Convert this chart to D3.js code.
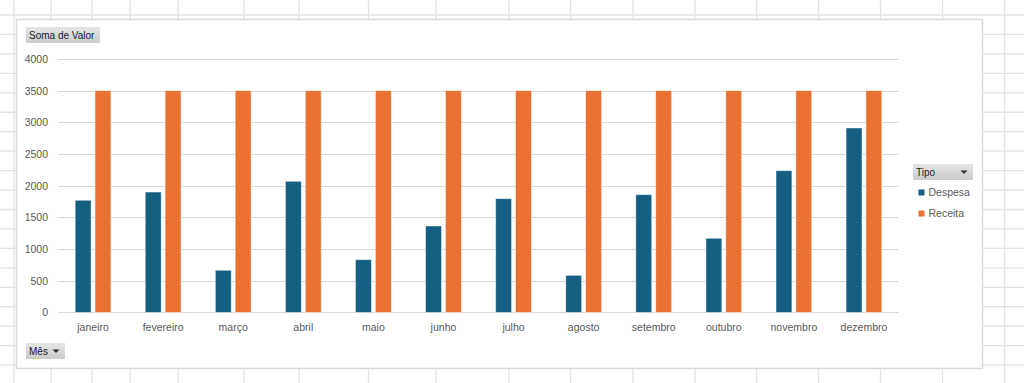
<!DOCTYPE html>
<html><head><meta charset="utf-8">
<script src="https://cdn.jsdelivr.net/npm/d3@7"></script>
<style>html,body{margin:0;padding:0;background:#fff;}svg{display:block;}</style>
</head><body>
<svg id="c" width="1024" height="383"></svg>
<script>
const months = ["janeiro","fevereiro","março","abril","maio","junho","julho","agosto","setembro","outubro","novembro","dezembro"];
const seriesNames = ["Despesa","Receita"];
const despesa = [1770,1900,665,2070,832,1364,1795,585,1858,1170,2237,2911];
const receita = [3500,3500,3500,3500,3500,3500,3500,3500,3500,3500,3500,3500];
const yTicks = [0,500,1000,1500,2000,2500,3000,3500,4000];
const colors = ["#156082","#E97132"];

const svg = d3.select("#c");
const W = 1024, H = 383;

// spreadsheet grid background
const colLines = [14,51,92,130,178,244,299,368.5,436,509,570.5,633,695,756.5,818.5,880.5,942.5,1004.5];
const rowLines = d3.range(0,19).map(i => 15 + i*19.45);
const bg = svg.append("g");
bg.selectAll("line.v").data(colLines).join("line")
  .attr("x1",d=>d).attr("x2",d=>d).attr("y1",0).attr("y2",H)
  .attr("stroke","#e3e3e3").attr("stroke-width",1.3);
bg.selectAll("line.h").data(rowLines).join("line")
  .attr("x1",0).attr("x2",W).attr("y1",d=>d).attr("y2",d=>d)
  .attr("stroke","#e3e3e3").attr("stroke-width",1.3);

// chart area
svg.append("rect").attr("x",16.5).attr("y",19.5).attr("width",966).attr("height",349)
  .attr("fill","#fff").attr("stroke","#d9d9d9").attr("stroke-width",1.5);

const x0 = d3.scaleBand().domain(months).range([58,899]).paddingInner(0.49).paddingOuter(0.245);
const x1 = d3.scaleBand().domain(seriesNames).range([0,x0.bandwidth()]).paddingInner(0.2);
const y = d3.scaleLinear().domain([0,4000]).range([312.4,59]);

// gridlines
const grid = svg.append("g");
grid.selectAll("line").data(yTicks).join("line")
  .attr("x1",58).attr("x2",899)
  .attr("y1",d=>Math.round(y(d))+0.5).attr("y2",d=>Math.round(y(d))+0.5)
  .attr("stroke","#d9d9d9").attr("stroke-width",1);

// y axis labels
const yAxis = d3.axisLeft(y).tickValues(yTicks).tickFormat(d3.format("d")).tickSize(0).tickPadding(0);
const ya = svg.append("g").attr("transform","translate(48,0)").call(yAxis);
ya.select(".domain").remove();
ya.selectAll("text").attr("font-family","Liberation Sans, Arial, sans-serif").attr("font-size","10.5px").attr("fill","#595959");

// x axis labels
const xAxis = d3.axisBottom(x0).tickSize(0).tickPadding(0);
const xa = svg.append("g").attr("transform","translate(0,324)").call(xAxis);
xa.select(".domain").remove();
xa.selectAll("text").attr("font-family","Liberation Sans, Arial, sans-serif").attr("font-size","10.5px").attr("fill","#595959");

// bars
const data = months.map((m,i)=>({m, vals:[despesa[i],receita[i]]}));
const groups = svg.append("g").selectAll("g").data(data).join("g")
  .attr("transform",d=>`translate(${x0(d.m)},0)`);
groups.selectAll("rect").data(d=>d.vals.map((v,j)=>({s:seriesNames[j],v,j}))).join("rect")
  .attr("x",d=>x1(d.s)).attr("width",x1.bandwidth())
  .attr("y",d=>y(d.v)).attr("height",d=>y(0)-y(d.v))
  .attr("fill",d=>colors[d.j])
  .attr("stroke","#ffffff").attr("stroke-opacity",0.55).attr("stroke-width",0.8);

// field buttons
const defs = svg.append("defs");
const gr = defs.append("linearGradient").attr("id","btn").attr("x1",0).attr("x2",0).attr("y1",0).attr("y2",1);
gr.append("stop").attr("offset","0%").attr("stop-color","#e6e6e6");
gr.append("stop").attr("offset","100%").attr("stop-color","#cbcbcb");

function button(x, yy, w, h, label, arrow){
  const g = svg.append("g");
  g.append("rect").attr("x",x).attr("y",yy).attr("width",w).attr("height",h).attr("fill","url(#btn)");
  g.append("text").attr("x",x+3).attr("y",yy+h/2+3.6).text(label)
    .attr("font-family","Liberation Sans, Arial, sans-serif").attr("font-size","10px").attr("fill","#1a1a2a");
  if(arrow){
    const ax = x+w-9, ay = yy+h/2;
    g.append("path").attr("d",`M${ax-3.5},${ay-1.5} L${ax+3.5},${ay-1.5} L${ax},${ay+2} Z`).attr("fill","#333");
  }
}
button(26,27,74,16,"Soma de Valor",false);
button(26,343,39,16,"Mês",true);
button(913,164,60,16,"Tipo",true);

// legend
const leg = svg.append("g");
seriesNames.forEach((s,i)=>{
  const ly = 189.5 + i*21;
  leg.append("rect").attr("x",918.5).attr("y",ly).attr("width",6).attr("height",6).attr("fill",colors[i]);
  leg.append("text").attr("x",928.5).attr("y",ly+6.5).text(s)
    .attr("font-family","Liberation Sans, Arial, sans-serif").attr("font-size","10.5px").attr("fill","#595959");
});
</script>
</body></html>
